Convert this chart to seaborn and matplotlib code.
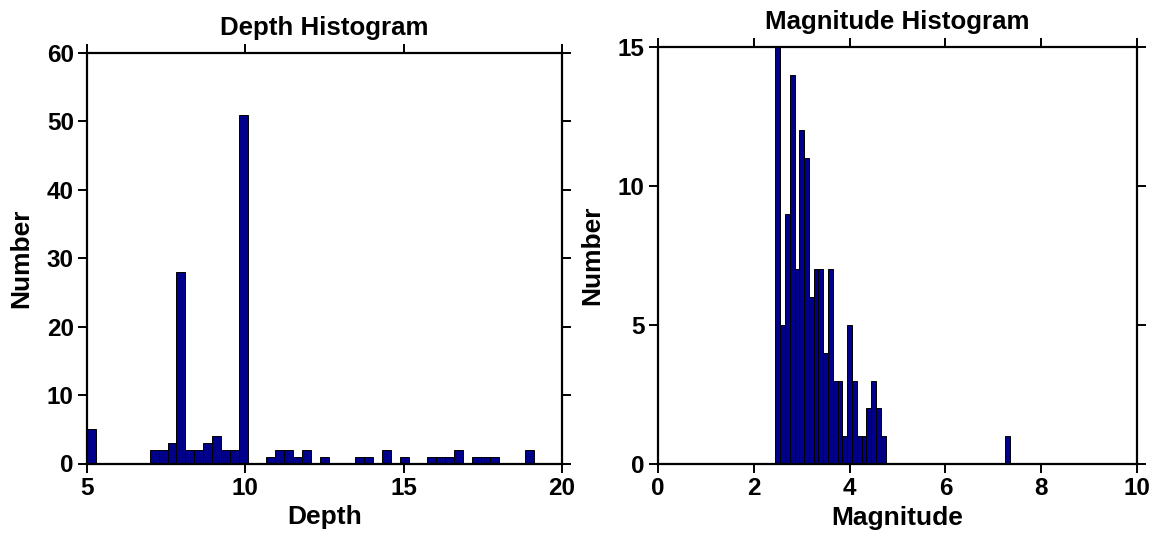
import numpy as np
import pandas as pd
import matplotlib
matplotlib.use("Agg")
import matplotlib.pyplot as plt
import seaborn as sns

# ---------------- data ----------------
# Depth histogram: representative depth of each occupied bin and its count
depth_values = [5.14, 7.12, 7.40, 7.69, 7.97, 8.25, 8.53, 8.81, 9.10, 9.38, 9.66, 9.94,
                10.79, 11.07, 11.36, 11.64, 11.92, 12.49, 13.62, 13.90, 14.46, 15.03,
                15.88, 16.16, 16.44, 16.73, 17.29, 17.57, 17.86, 18.98]
depth_counts = [5, 2, 2, 3, 28, 2, 2, 3, 4, 2, 2, 51,
                1, 2, 2, 1, 2, 1, 1, 1, 2, 1,
                1, 1, 1, 2, 1, 1, 1, 2]
depth_bin_lo, depth_bin_hi, depth_nbins = 5.0, 19.125, 50

# Magnitude histogram: bin centre and count
mag_values = [2.5, 2.6, 2.7, 2.8, 2.9, 3.0, 3.1, 3.2, 3.3, 3.4, 3.5, 3.6,
              3.7, 3.8, 3.9, 4.0, 4.1, 4.2, 4.3, 4.4, 4.5, 4.6, 4.7, 7.3]
mag_counts = [15, 5, 9, 14, 7, 12, 11, 6, 7, 7, 4, 7,
              3, 3, 1, 5, 3, 1, 1, 2, 3, 2, 1, 1]
mag_bin_lo, mag_bin_hi, mag_nbins = 2.45, 7.35, 49

depth_xticks = [5, 10, 15, 20]
depth_yticks = [0, 10, 20, 30, 40, 50, 60]
mag_xticks = [0, 2, 4, 6, 8, 10]
mag_yticks = [0, 5, 10, 15]

# ---------------- style ----------------
sns.set_style("ticks")
plt.rcParams["font.family"] = ["Liberation Sans", "DejaVu Sans"]
plt.rcParams["font.weight"] = "bold"
plt.rcParams["text.color"] = "black"
plt.rcParams["axes.labelcolor"] = "black"
plt.rcParams["xtick.color"] = "black"
plt.rcParams["ytick.color"] = "black"

BAR = "#00008a"
TICK_FS = 17.5
LABEL_FS = 19
TITLE_FS = 18.6

fig = plt.figure(figsize=(11.54, 5.36), dpi=100)
W, H = 1154, 536
ax1 = fig.add_axes([87 / W, (H - 463.5) / H, 475 / W, 410.5 / H])
ax2 = fig.add_axes([658 / W, (H - 464) / H, 479 / W, 417 / H])

df_depth = pd.DataFrame({"Depth": depth_values, "n": depth_counts})
df_mag = pd.DataFrame({"Magnitude": mag_values, "n": mag_counts})

depth_edges = [float(v) for v in np.linspace(depth_bin_lo, depth_bin_hi, depth_nbins + 1)]
mag_edges = [float(v) for v in np.linspace(mag_bin_lo, mag_bin_hi, mag_nbins + 1)]

sns.histplot(data=df_depth, x="Depth", weights="n", bins=depth_edges,
             color=BAR, edgecolor="black", linewidth=0.7, alpha=1.0, ax=ax1)
sns.histplot(data=df_mag, x="Magnitude", weights="n", bins=mag_edges,
             color=BAR, edgecolor="black", linewidth=0.7, alpha=1.0, ax=ax2)

def style(ax, xlim, ylim, xt, yt, title, xlabel):
    ax.set_xlim(*xlim)
    ax.set_ylim(*ylim)
    ax.set_xticks(xt)
    ax.set_yticks(yt)
    ax.set_xticklabels([str(v) for v in xt], fontsize=TICK_FS, fontweight="bold", color="black")
    ax.set_yticklabels([str(v) for v in yt], fontsize=TICK_FS, fontweight="bold", color="black")
    for s in ax.spines.values():
        s.set_visible(True)
        s.set_linewidth(1.6)
        s.set_color("black")
    ax.tick_params(axis="both", which="major", direction="out", length=6.5,
                   width=1.4, color="black", pad=3,
                   top=True, right=True, bottom=True, left=True,
                   labeltop=False, labelright=False)
    ax.set_title(title, fontsize=TITLE_FS, fontweight="bold", pad=13, color="black")
    ax.set_xlabel(xlabel, fontsize=LABEL_FS, fontweight="bold", labelpad=4, color="black")
    ax.set_ylabel("Number", fontsize=LABEL_FS, fontweight="bold", labelpad=10, color="black")
    ax.grid(False)

style(ax1, (5, 20), (0, 60), depth_xticks, depth_yticks, "Depth Histogram", "Depth")
style(ax2, (0, 10), (0, 15), mag_xticks, mag_yticks, "Magnitude Histogram", "Magnitude")

fig.savefig("out.png", dpi=100)
